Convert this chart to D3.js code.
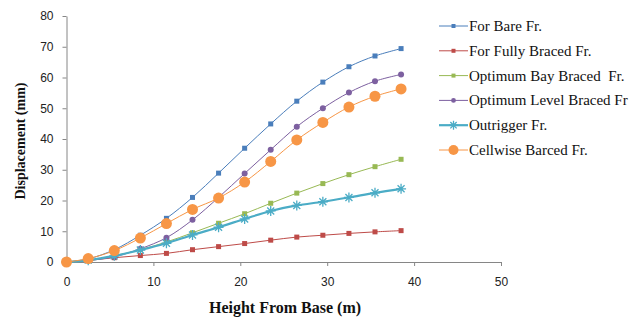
<!doctype html>
<html>
<head>
<style>
  body { margin: 0; background: #fff; }
  .tick text { font-family: "Liberation Sans", Arial, sans-serif; font-size: 12px; fill: #222; }
  .axis path, .axis line { stroke: #868686; }
</style>
<script src="https://d3js.org/d3.v7.min.js"></script>
</head>
<body>
<svg width="641" height="321"></svg>
<script>
var heights = [0, 2.5, 5.5, 8.5, 11.5, 14.5, 17.5, 20.5, 23.5, 26.5, 29.5, 32.5, 35.5, 38.5];
var bare = [0, 1, 4, 8.7, 14.2, 21, 28.9, 37, 44.9, 52.3, 58.5, 63.5, 67, 69.4];
var fullyBraced = [0, 0.5, 1.4, 2.1, 2.8, 4, 5, 6, 7.1, 8.1, 8.7, 9.3, 9.8, 10.2];
var bayBraced = [0, 0.5, 2, 4, 6.5, 9.5, 12.6, 15.7, 19.1, 22.4, 25.5, 28.4, 31, 33.4];
var levelBraced = [0, 0.5, 1.7, 4.3, 7.9, 13.7, 21, 28.8, 36.5, 44, 50, 55.1, 58.8, 61];
var outrigger = [0, 0.6, 2, 3.9, 6.1, 8.8, 11.3, 14, 16.6, 18.4, 19.6, 21, 22.5, 23.8];
var cellwise = [0, 1.1, 3.7, 7.8, 12.5, 17.1, 20.8, 26, 32.7, 39.7, 45.4, 50.4, 53.9, 56.3];
var xTicks = [0, 10, 20, 30, 40, 50];
var yTicks = [0, 10, 20, 30, 40, 50, 60, 70, 80];

var series = [
  { name: "For Bare Fr.", values: bare, color: "#4a7ebb", marker: "square", r: 2.5, w: 1 },
  { name: "For Fully Braced Fr.", values: fullyBraced, color: "#be4b48", marker: "square", r: 2.5, w: 1 },
  { name: "Optimum Bay Braced  Fr.", values: bayBraced, color: "#98b954", marker: "square", r: 2.5, w: 1 },
  { name: "Optimum Level Braced Fr", values: levelBraced, color: "#7d60a0", marker: "circle", r: 3, w: 1 },
  { name: "Outrigger Fr.", values: outrigger, color: "#4bacc6", marker: "star", r: 5, w: 2.2 },
  { name: "Cellwise Barced Fr.", values: cellwise, color: "#f79646", marker: "circle", r: 5.5, w: 1 }
];

var svg = d3.select("svg");
var x = d3.scaleLinear().domain([0, 50]).range([66.5, 501]);
var y = d3.scaleLinear().domain([0, 80]).range([262, 16]);

svg.append("g").attr("class", "axis")
  .attr("transform", "translate(0,262)")
  .call(d3.axisBottom(x).tickValues(xTicks).tickSize(4).tickSizeOuter(0).tickPadding(11));

svg.append("g").attr("class", "axis")
  .attr("transform", "translate(66.5,0)")
  .call(d3.axisLeft(y).tickValues(yTicks).tickSize(4).tickSizeOuter(0).tickPadding(9));

var line = d3.line().curve(d3.curveCatmullRom.alpha(0.5))
  .x(function(d, i) { return x(heights[i]); })
  .y(function(d) { return y(d); });

function drawMarker(g, s, cx, cy) {
  if (s.marker === "square") {
    g.append("rect").attr("x", cx - s.r).attr("y", cy - s.r)
      .attr("width", s.r * 2).attr("height", s.r * 2).attr("fill", s.color);
  } else if (s.marker === "circle") {
    g.append("circle").attr("cx", cx).attr("cy", cy).attr("r", s.r).attr("fill", s.color);
  } else {
    var r = s.r;
    var p = "M" + (cx - r) + "," + cy + "H" + (cx + r) +
      "M" + (cx - r * 0.7) + "," + (cy - r * 0.7) + "L" + (cx + r * 0.7) + "," + (cy + r * 0.7) +
      "M" + (cx - r * 0.7) + "," + (cy + r * 0.7) + "L" + (cx + r * 0.7) + "," + (cy - r * 0.7) +
      "M" + cx + "," + (cy - r) + "V" + (cy + r);
    g.append("path").attr("d", p).attr("stroke", s.color).attr("stroke-width", 1.3).attr("fill", "none");
  }
}

series.forEach(function(s) {
  var g = svg.append("g");
  g.append("path").attr("d", line(s.values)).attr("fill", "none")
    .attr("stroke", s.color).attr("stroke-width", s.w);
  s.values.forEach(function(v, i) { drawMarker(g, s, x(heights[i]), y(v)); });
});

// legend
var lg = svg.append("g").attr("transform", "translate(439,26)");
series.forEach(function(s, i) {
  var row = lg.append("g").attr("transform", "translate(0," + (i * 24.8) + ")");
  row.append("line").attr("x1", 0).attr("x2", 29).attr("stroke", s.color).attr("stroke-width", s.w);
  var ms = Object.assign({}, s, { r: s.marker === "circle" && s.r > 4 ? 5 : (s.marker === "star" ? 4.5 : s.r * 0.8) });
  drawMarker(row, ms, 14.5, 0);
  row.append("text").attr("x", 30).attr("y", 5)
    .style("white-space", "pre")
    .attr("font-family", "Liberation Serif, Times New Roman, serif")
    .attr("font-size", 15).attr("fill", "#111").text(s.name);
});

svg.append("text").attr("x", 285).attr("y", 313)
  .attr("text-anchor", "middle").attr("font-family", "Liberation Serif, Times New Roman, serif")
  .attr("font-weight", "bold").attr("font-size", 16).attr("fill", "#111")
  .text("Height From Base (m)");

svg.append("text").attr("transform", "translate(25,141) rotate(-90)")
  .attr("text-anchor", "middle").attr("font-family", "Liberation Serif, Times New Roman, serif")
  .attr("font-weight", "bold").attr("font-size", 14).attr("fill", "#111")
  .text("Displacement (mm)");
</script>
</body>
</html>
